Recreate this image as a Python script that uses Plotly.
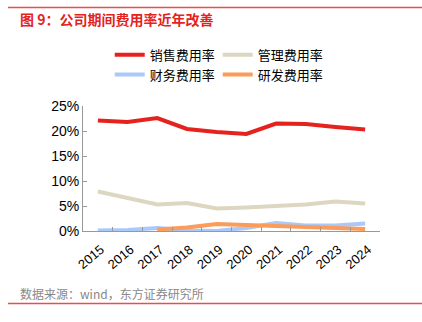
import plotly.graph_objects as go

years = ["2015", "2016", "2017", "2018", "2019", "2020", "2021", "2022", "2023", "2024"]
sales = [22.1, 21.8, 22.6, 20.4, 19.8, 19.4, 21.5, 21.4, 20.8, 20.3]
admin = [7.9, 6.7, 5.3, 5.6, 4.5, 4.7, 4.9, 5.3, 5.9, 5.5]
finance = [0.1, 0.2, 0.6, 0.1, 0.0, 0.6, 1.6, 1.1, 1.1, 1.5]
rnd = [None, None, 0.3, 0.7, 1.4, 1.2, 1.1, 1.0, 0.6, 0.4]

names = ["销售费用率", "管理费用率", "财务费用率", "研发费用率"]
colors = ["#e5231e", "#ddd6c1", "#a9c9fb", "#fb9c5a"]
series = [sales, admin, finance, rnd]

CJK = "Noto Sans CJK SC"
NUM = "Liberation Sans, Arial"

fig = go.Figure()
for n, c, s in zip(names, colors, series):
    fig.add_trace(go.Scatter(x=years, y=s, name=n, mode="lines",
                             line=dict(color=c, width=4)))

fig.update_layout(
    width=422, height=322,
    margin=dict(l=83, r=42, t=106, b=91),
    paper_bgcolor="white", plot_bgcolor="white",
    showlegend=True,
    legend=dict(orientation="h", x=0.09, y=1.53, xanchor="left", yanchor="top",
                entrywidth=63, entrywidthmode="pixels",
                font=dict(family=CJK, size=13, color="#000"),
                tracegroupgap=0, itemwidth=30, bgcolor="rgba(0,0,0,0)"),
    xaxis=dict(type="category", range=[-0.5, 9.5], tickangle=-40,
               tickson="boundaries", ticks="inside", ticklen=4, tickcolor="#999",
               showline=True, linecolor="#999", linewidth=1, showgrid=False,
               ticklabelstandoff=5, ticklabelshift=3,
               tickfont=dict(family=NUM, size=13, color="#000")),
    yaxis=dict(range=[0, 25], dtick=5, ticksuffix="%", ticks="inside", ticklen=4,
               tickcolor="#999", showline=True, linecolor="#999", linewidth=1,
               showgrid=False, zeroline=False,
               tickfont=dict(family=NUM, size=14, color="#000")),
)

fig.add_shape(type="line", xref="paper", yref="paper",
              x0=-75/297, x1=412/297, y0=1 + (106-7.5)/125, y1=1 + (106-7.5)/125,
              line=dict(color="#ee4b4b", width=1.5))
fig.add_shape(type="line", xref="paper", yref="paper",
              x0=-75/297, x1=412/297, y0=-(303.5-231)/125, y1=-(303.5-231)/125,
              line=dict(color="#ee4b4b", width=1.5))

fig.add_annotation(text="<b>图 9：公司期间费用率近年改善</b>", xref="paper", yref="paper",
                   x=-65/297, y=1 + (106-19)/125, xanchor="left", yanchor="middle",
                   showarrow=False, font=dict(family=CJK, size=14, color="#e5231e"))
fig.add_annotation(text="数据来源：wind，东方证券研究所", xref="paper", yref="paper",
                   x=-65/297, y=-(293-231)/125, xanchor="left", yanchor="middle",
                   showarrow=False, font=dict(family=CJK, size=12, color="#888"))

fig.write_html("out.html")
